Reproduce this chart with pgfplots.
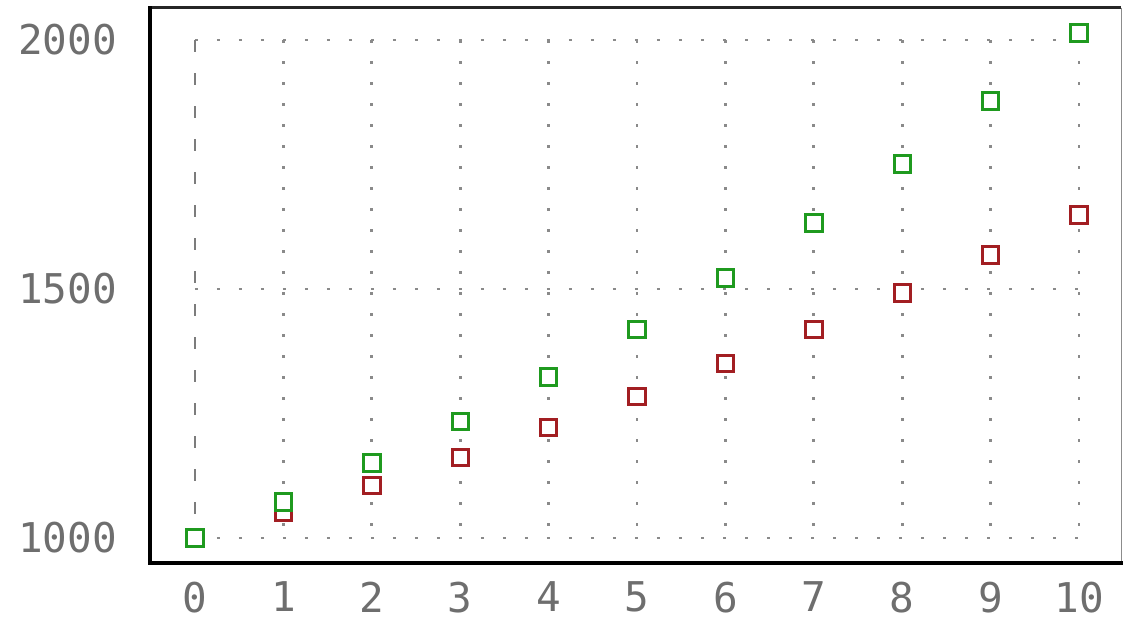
\documentclass[border=0pt]{standalone}
\usepackage{fontspec}
\setmainfont{DejaVu Sans Mono}
\usepackage{pgfplots}
\pgfplotsset{compat=1.18}
\definecolor{grn}{HTML}{1F9A1F}
\definecolor{rd}{HTML}{A21E22}
\definecolor{gridc}{HTML}{8A8A8A}
\definecolor{lab}{HTML}{6E6E6E}
\begin{document}
\begin{tikzpicture}
\useasboundingbox (-75pt,-29.5pt) rectangle (490pt,281.5pt);
\begin{axis}[
  at={(0,0)}, anchor=south west,
  scale only axis,
  width=485.5pt, height=277.5pt,
  xmin=-0.509, xmax=10.475,
  ymin=949.8, ymax=2064.3,
  axis line style={draw=none},
  xtick={0,...,10},
  ytick={1000,1500,2000},
  major tick length=0pt,
  tick label style={font=\fontsize{20.5}{24}\selectfont, text=lab},
  /pgf/number format/assume math mode=true,
  /pgf/number format/1000 sep={},
  xticklabel style={yshift=-6pt},
  yticklabel style={xshift=-13pt},
  clip=false,
]
% grid drawn as data lines
\addplot[gridc, line width=1.4pt, dash pattern=on 1.4pt off 9.6pt, forget plot] coordinates {(0,1000) (10,1000)};
\addplot[gridc, line width=1.4pt, dash pattern=on 1.4pt off 9.6pt, forget plot] coordinates {(0,1500) (10,1500)};
\addplot[gridc, line width=1.4pt, dash pattern=on 1.4pt off 9.6pt, forget plot] coordinates {(0,2000) (10,2000)};
\foreach \k in {1,...,10} {
  \edef\tmp{\noexpand\addplot[gridc, line width=1.4pt, dash pattern=on 1.4pt off 9.1pt, forget plot] coordinates {(\k,2000) (\k,1000)};}
  \tmp
}
\addplot[gridc!90!black, line width=1.1pt, dash pattern=on 6pt off 10.5pt, forget plot] coordinates {(0,2000) (0,1000)};
% series
\addplot[only marks, mark=square*, mark size=4.1pt, rd, mark options={line width=1.5pt, fill=white}] coordinates {
(0,1000) (1,1051.3) (2,1105.2) (3,1161.8) (4,1221.4) (5,1284.0)
(6,1349.9) (7,1419.1) (8,1491.8) (9,1568.3) (10,1648.7)};
\addplot[only marks, mark=square*, mark size=4.1pt, grn, mark options={line width=1.5pt, fill=white}] coordinates {
(0,1000) (1,1072.5) (2,1150.3) (3,1233.7) (4,1323.1) (5,1419.1)
(6,1522.0) (7,1632.3) (8,1750.7) (9,1877.6) (10,2013.8)};
% frame
\draw[line width=1.5pt, black!85] (rel axis cs:0,1) -- (rel axis cs:1,1);
\draw[line width=0.5pt, black!45] (rel axis cs:1,0) -- (rel axis cs:1,1);
\draw[line width=1.6pt, black, line cap=rect] (rel axis cs:0,1) -- (rel axis cs:0,0) -- (rel axis cs:1,0);
\end{axis}
\end{tikzpicture}
\end{document}
